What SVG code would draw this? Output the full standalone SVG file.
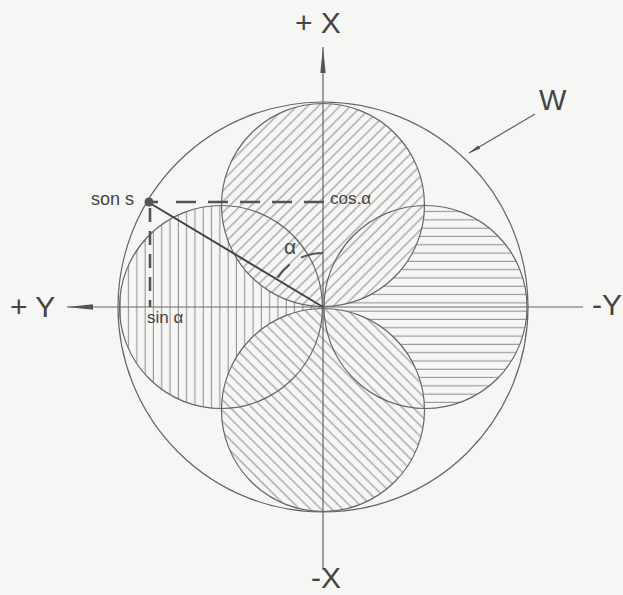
<svg xmlns="http://www.w3.org/2000/svg" width="623" height="595" viewBox="0 0 623 595">
<style>
.ol{fill:none;stroke:#666;stroke-width:1.2}
.hl{stroke:#7a7a7a;stroke-width:0.9}
.ax{stroke:#666;stroke-width:1.2;fill:none}
.lbl{font-family:"Liberation Sans",Arial,sans-serif;fill:#444}
.big{font-size:30px}
.sm{font-size:17px}
.dash{stroke:#555;stroke-width:2.6;fill:none}
</style>
<defs>
<pattern id="pv" patternUnits="userSpaceOnUse" width="8.3" height="10"><line class="hl" x1="4" y1="-1" x2="4" y2="11"/></pattern>
<pattern id="ph" patternUnits="userSpaceOnUse" width="10" height="8.3"><line class="hl" x1="-1" y1="4" x2="11" y2="4"/></pattern>
<pattern id="pd1" patternUnits="userSpaceOnUse" width="7.6" height="10" patternTransform="rotate(45)"><line class="hl" x1="3.8" y1="-1" x2="3.8" y2="11"/></pattern>
<pattern id="pd2" patternUnits="userSpaceOnUse" width="7.6" height="10" patternTransform="rotate(-45)"><line class="hl" x1="3.8" y1="-1" x2="3.8" y2="11"/></pattern>
<marker id="ah" markerUnits="userSpaceOnUse" markerWidth="27" markerHeight="7" refX="26" refY="3.5" orient="auto"><path d="M0,0.8 L26,3.5 L0,6.2 z" fill="#555"/></marker>
<marker id="ahw" markerUnits="userSpaceOnUse" markerWidth="13" markerHeight="5" refX="12" refY="2.5" orient="auto"><path d="M0,0.5 L12,2.5 L0,4.5 z" fill="#555"/></marker>
</defs>
<rect width="623" height="595" fill="#f6f6f4"/>
<g id="lobe-left"><circle cx="221" cy="307" r="101.5" fill="url(#pv)"/></g>
<g id="lobe-right"><circle cx="425.5" cy="307" r="101.5" fill="url(#ph)"/></g>
<g id="lobe-top"><circle cx="323" cy="205" r="101.5" fill="#f6f6f4"/><circle cx="323" cy="205" r="101.5" fill="url(#pd1)"/></g>
<g id="lobe-bottom"><circle cx="323" cy="410" r="101.5" fill="#f6f6f4"/><circle cx="323" cy="410" r="101.5" fill="url(#pd2)"/></g>
<g id="outlines">
<circle class="ol" cx="221" cy="307" r="101.5"/>
<circle class="ol" cx="425.5" cy="307" r="101.5"/>
<circle class="ol" cx="323" cy="205" r="101.5"/>
<circle class="ol" cx="323" cy="410" r="101.5"/>
</g>
<g id="outer-circle"><circle class="ol" cx="323" cy="307" r="205"/></g>
<g id="connectors">
<line class="ax" x1="323" y1="570" x2="323" y2="47" marker-end="url(#ah)"/>
<line class="ax" x1="583" y1="307" x2="67" y2="307" marker-end="url(#ah)"/>
<line class="ax" x1="535" y1="114" x2="469" y2="153" marker-end="url(#ahw)"/>
<line class="dash" x1="152" y1="202" x2="158" y2="202"/>
<line class="dash" x1="176" y1="202" x2="325" y2="202" stroke-dasharray="20 12"/>
<line class="dash" x1="150" y1="208" x2="150" y2="307" stroke-dasharray="14 9"/>
<line x1="148" y1="202" x2="323" y2="307" stroke="#444" stroke-width="2"/>
<path d="M323,253 A54,54 0 0 0 301,257.6" fill="none" stroke="#555" stroke-width="2"/>
<path d="M289.7,264.4 A54,54 0 0 0 277.7,277.6" fill="none" stroke="#555" stroke-width="2"/>
</g>
<g id="point-s"><circle cx="149" cy="202" r="4.5" fill="#555"/></g>
<g id="labels">
<text class="lbl big" x="295" y="33">+ X</text>
<text class="lbl big" x="311" y="588">-X</text>
<text class="lbl big" x="10" y="317">+ Y</text>
<text class="lbl big" x="592" y="315">-Y</text>
<text class="lbl" x="539" y="110" font-size="29">W</text>
<text class="lbl" x="91" y="205" font-size="18">son s</text>
<text class="lbl sm" x="330" y="204">cos.α</text>
<text class="lbl sm" x="147" y="323">sin α</text>
<text class="lbl" x="284" y="254" font-size="21">α</text>
</g>
</svg>
